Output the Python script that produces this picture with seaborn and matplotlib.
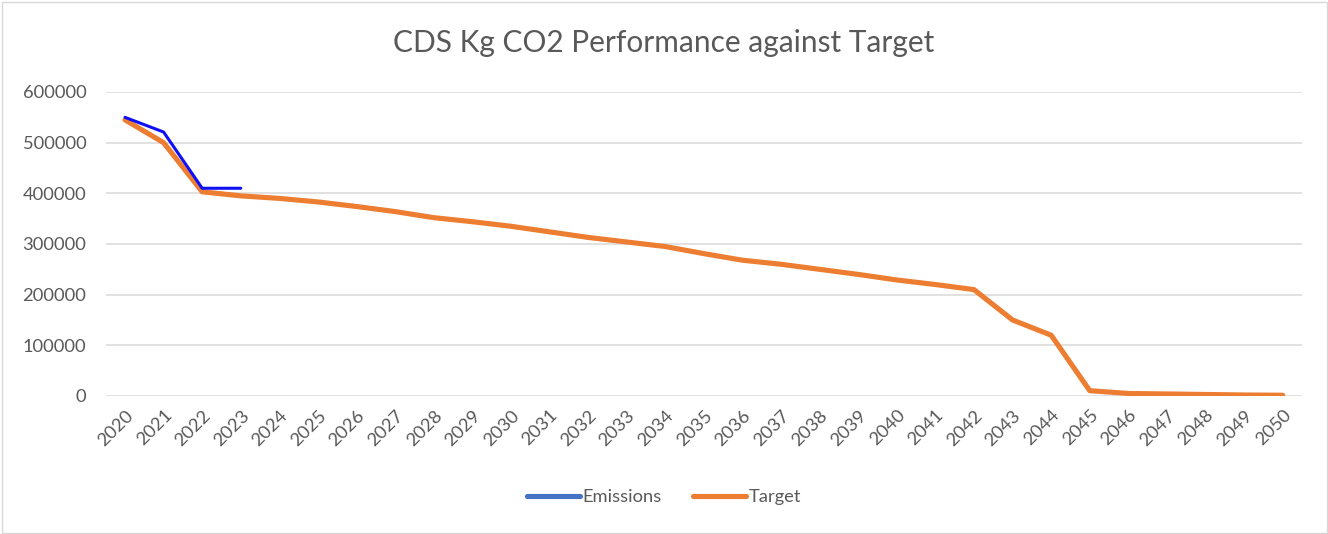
import pandas as pd
import numpy as np
import matplotlib
matplotlib.use("Agg")
import matplotlib.pyplot as plt
import seaborn as sns
from matplotlib.lines import Line2D
from matplotlib.patches import Rectangle

years = [str(y) for y in range(2020, 2051)]

emissions = [550000, 521000, 410000, 410000]

target = [545000, 500000, 403000, 395000, 390000, 383000, 374000, 364000,
          352000, 344000, 335000, 324000, 313000, 304000, 295000, 281000,
          268000, 260000, 250000, 240000, 229000, 220000, 210000, 150000,
          120000, 10500, 5000, 4000, 3000, 2000, 1500]

df_target = pd.DataFrame({"year": years, "value": target})
df_emis = pd.DataFrame({"year": years[:len(emissions)], "value": emissions})

sns.set_style("white")
plt.rcParams['font.family'] = ['Lato', 'DejaVu Sans']

grey = "#595959"
orange = "#ED7D31"
blue_leg = "#4472C4"

fig = plt.figure(figsize=(13.28, 5.34), dpi=100)
ax = fig.add_axes([105.7 / 1328, 138 / 534, (1302 - 105.7) / 1328, (396 - 92) / 534])

ax.set_xticks(range(len(years)))
sns.lineplot(data=df_target, x="year", y="value", ax=ax, color=orange,
             linewidth=3.7, zorder=3, sort=False)
sns.lineplot(data=df_emis, x="year", y="value", ax=ax, color="#1010F5",
             linewidth=2.2, zorder=4, sort=False)

ax.set_xlim(-0.5, len(years) - 0.5)
ax.set_ylim(0, 600000)
ax.set_yticks(np.arange(0, 600001, 100000))
ax.set_yticklabels([str(v) for v in range(0, 600001, 100000)])
ax.set_xticks(range(len(years)))
ax.set_xticklabels(years, rotation=45, ha="right", rotation_mode="anchor")
ax.grid(axis="y", color="#D9D9D9", linewidth=1.1)
ax.set_axisbelow(True)
for s in ax.spines.values():
    s.set_visible(False)
ax.tick_params(axis="both", length=0, labelsize=13.2, colors=grey)
ax.tick_params(axis="y", pad=14)
ax.tick_params(axis="x", pad=8)
ax.set_xlabel("")
ax.set_ylabel("")

fig.text(0.5, 1 - 43 / 534, "CDS Kg CO2 Performance against Target",
         ha="center", va="center", fontsize=21.5, color=grey)

handles = [Line2D([0], [0], color=blue_leg, linewidth=3.7, solid_capstyle="round"),
           Line2D([0], [0], color=orange, linewidth=3.7, solid_capstyle="round")]
fig.legend(handles, ["Emissions", "Target"], loc="center",
           bbox_to_anchor=(0.5, 1 - 497 / 534), ncol=2, frameon=False,
           fontsize=13.2, labelcolor=grey, handlelength=2.9, handletextpad=0.15,
           columnspacing=1.7)

fig.patches.append(Rectangle((1.5 / 1328, 1.5 / 534), 1325 / 1328, 531 / 534,
                             transform=fig.transFigure, fill=False,
                             edgecolor="#D9D9D9", linewidth=1))

fig.savefig("out.png", dpi=100)
